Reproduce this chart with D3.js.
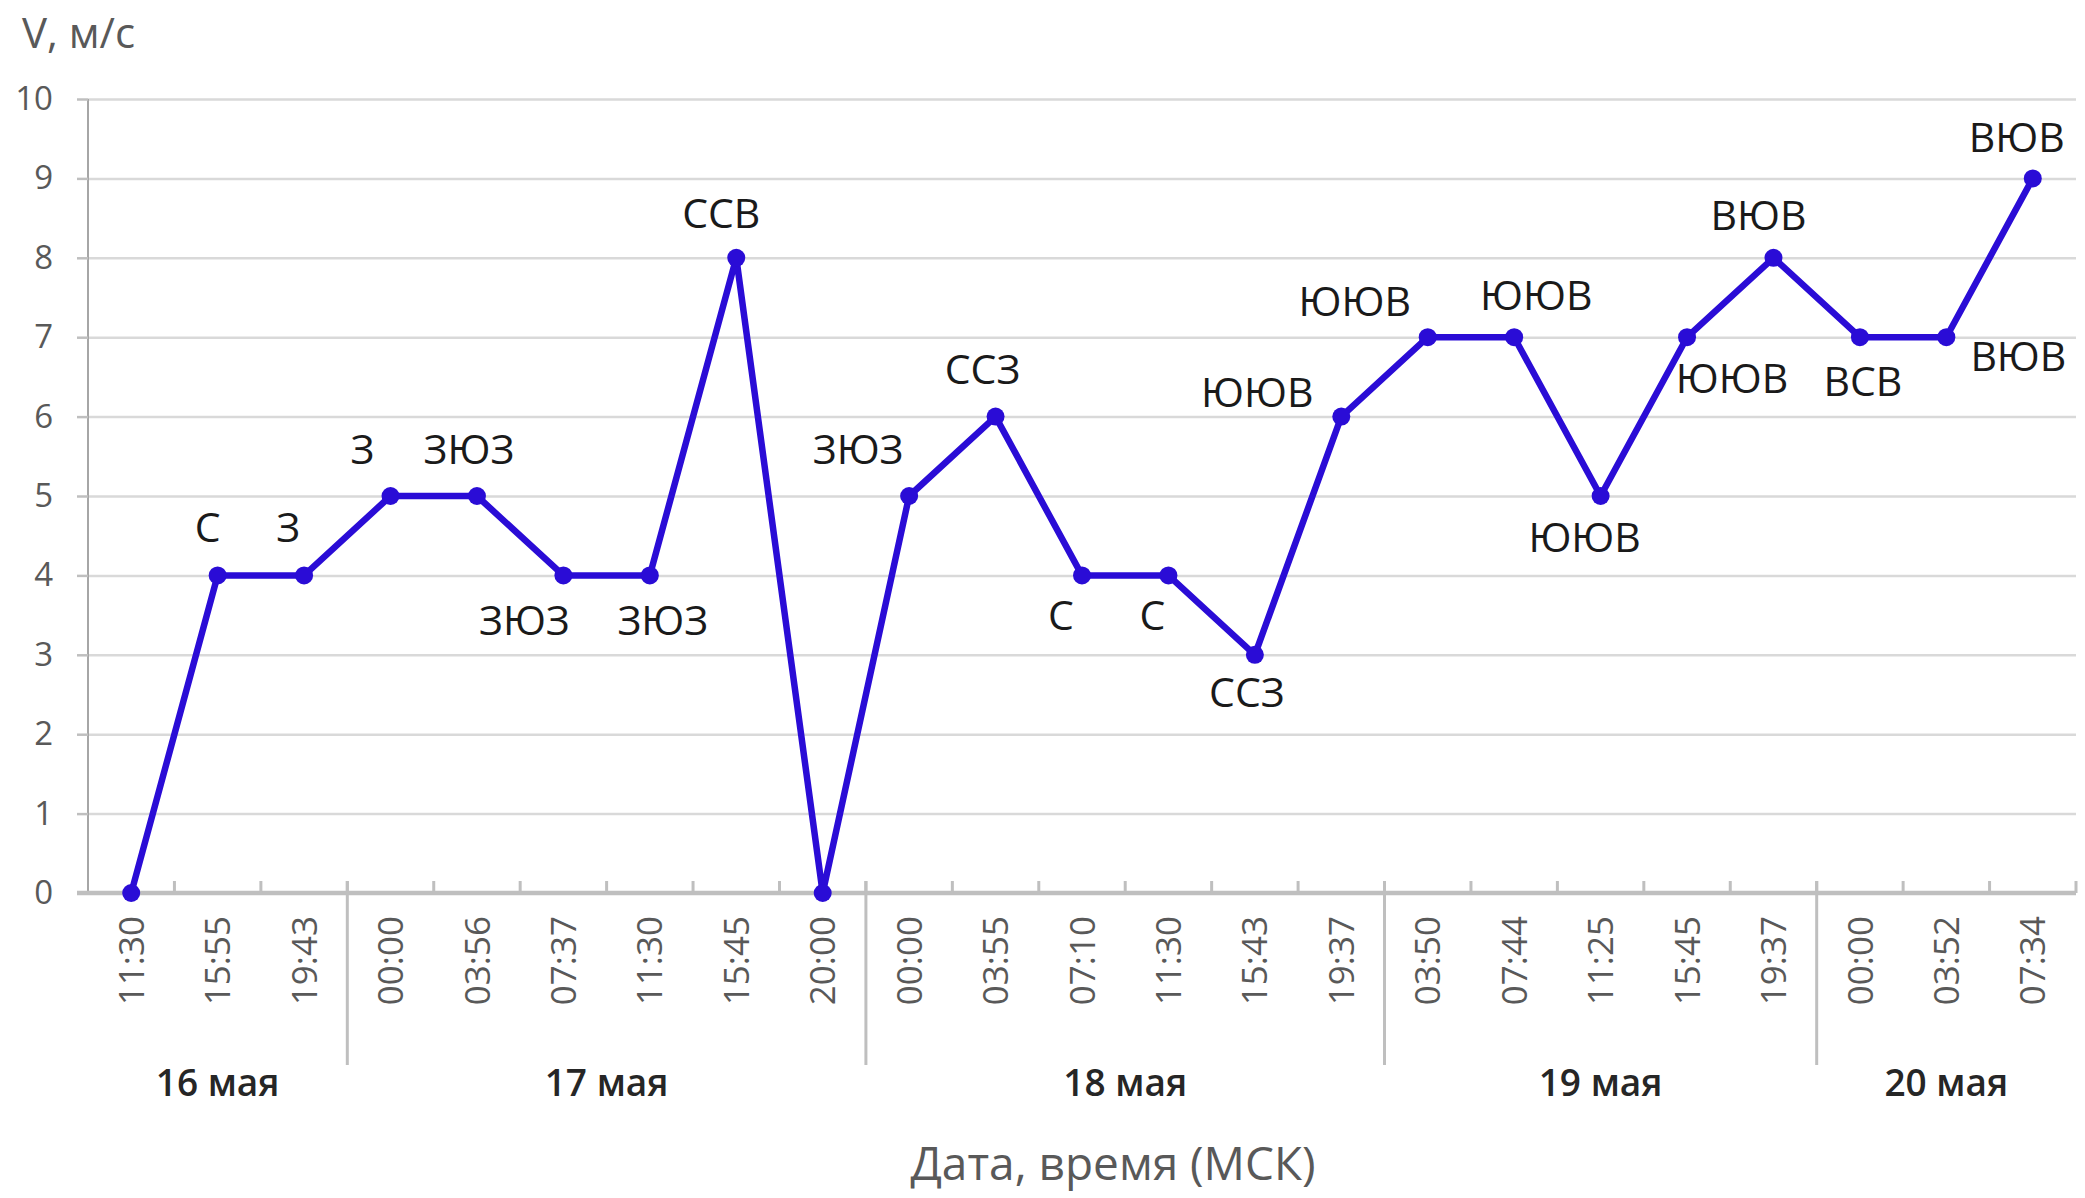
<!DOCTYPE html>
<html>
<head>
<meta charset="utf-8">
<script src="https://cdn.jsdelivr.net/npm/d3@7"></script>
<style>
  html, body { margin: 0; padding: 0; background: #ffffff; }
  svg { display: block; }
  text { font-family: "Open Sans", "Noto Sans", sans-serif; }
</style>
</head>
<body>
<svg id="chart" width="2085" height="1198"></svg>
<script>
// ---- data ----
const times = ["11:30","15:55","19:43","00:00","03:56","07:37","11:30","15:45","20:00",
               "00:00","03:55","07:10","11:30","15:43","19:37",
               "03:50","07:44","11:25","15:45","19:37",
               "00:00","03:52","07:34"];
const speeds = [0,4,4,5,5,4,4,8,0,5,6,4,4,3,6,7,7,5,7,8,7,7,9];
const directions = ["","С","З","З","ЗЮЗ","ЗЮЗ","ЗЮЗ","ССВ","","ЗЮЗ","ССЗ","С","С","ССЗ",
                    "ЮЮВ","ЮЮВ","ЮЮВ","ЮЮВ","ЮЮВ","ВЮВ","ВСВ","ВЮВ","ВЮВ"];
const dayLabels = ["16 мая","17 мая","18 мая","19 мая","20 мая"];
const dayCounts = [3,6,6,5,3];
const yTicks = [0,1,2,3,4,5,6,7,8,9,10];

// ---- layout (label placement offsets, px) ----
const labelOffsets = [[0,0],[-10,-48],[-16,-48],[-28,-47],[-8,-47],[-39,45],[13,45],[-15,-45],[0,0],
  [-51,-47],[-13,-47],[-21,40],[-16,40],[-8,37],[-84,-24],[-73,-36],[22,-42],[-16,41],[45,41],
  [-15,-43],[3,44],[72,19],[-16,-41]];

const svg = d3.select("#chart");
const mLeft = 88, mRight = 2076, mTop = 99, mBottom = 893;

const x = d3.scaleBand().domain(d3.range(times.length)).range([mLeft, mRight]).padding(0);
const y = d3.scaleLinear().domain([0, 10]).range([mBottom, mTop]);

// gridlines
svg.append("g")
  .attr("transform", `translate(${mLeft},0)`)
  .call(d3.axisLeft(y).tickValues(yTicks.filter(v => v > 0)).tickSize(-(mRight - mLeft)).tickFormat(""))
  .call(g => g.select(".domain").remove())
  .call(g => g.selectAll("line").attr("stroke", "#d9d9d9").attr("stroke-width", 2.5));

// y axis
svg.append("g")
  .attr("transform", `translate(${mLeft},0)`)
  .call(d3.axisLeft(y).tickValues(yTicks).tickSize(11).tickPadding(24).tickFormat(d3.format("d")))
  .call(g => g.select(".domain").attr("stroke", "#a6a6a6").attr("stroke-width", 2).attr("d", `M0,${mTop}V${mBottom}`))
  .call(g => g.selectAll(".tick line").attr("stroke", "#bfbfbf").attr("stroke-width", 2.5))
  .call(g => g.selectAll("text").attr("font-size", 33).attr("fill", "#595959")
                .attr("font-family", "'Open Sans', sans-serif"));

// x axis line
svg.append("line")
  .attr("x1", mLeft - 11).attr("x2", mRight).attr("y1", mBottom).attr("y2", mBottom)
  .attr("stroke", "#bfbfbf").attr("stroke-width", 4.5);

// band boundary ticks (upward)
const boundaries = d3.range(times.length + 1).map(i => i < times.length ? x(i) : x.range()[1]);
svg.append("g").selectAll("line").data(boundaries.slice(1)).join("line")
  .attr("x1", d => d).attr("x2", d => d)
  .attr("y1", mBottom).attr("y2", mBottom - 12)
  .attr("stroke", "#bfbfbf").attr("stroke-width", 3);

// day separators
let cum = 0;
const dayStarts = dayCounts.map(c => { const s = cum; cum += c; return s; });
svg.append("g").selectAll("line").data(dayStarts.slice(1)).join("line")
  .attr("x1", d => x(d)).attr("x2", d => x(d))
  .attr("y1", mBottom - 12).attr("y2", mBottom + 172)
  .attr("stroke", "#bfbfbf").attr("stroke-width", 3);

// time tick labels (rotated)
svg.append("g")
  .attr("transform", `translate(0,${mBottom})`)
  .call(d3.axisBottom(x).tickSize(0).tickFormat(i => times[i]))
  .call(g => g.select(".domain").remove())
  .call(g => g.selectAll("text")
     .attr("font-size", 35).attr("fill", "#595959")
     .attr("font-family", "'Open Sans', sans-serif")
     .attr("text-anchor", "end")
     .attr("transform", "rotate(-90)")
     .attr("x", -23).attr("y", 0).attr("dy", "0.36em"));

// day labels
svg.append("g").selectAll("text").data(dayLabels).join("text")
  .attr("x", (d, i) => (x(dayStarts[i]) + (dayStarts[i] + dayCounts[i] < times.length ? x(dayStarts[i] + dayCounts[i]) : mRight)) / 2)
  .attr("y", 1096)
  .attr("text-anchor", "middle")
  .attr("font-size", 37).attr("font-weight", 600).attr("fill", "#262626")
  .text(d => d);

// line
const line = d3.line().x((d, i) => x(i) + x.bandwidth() / 2).y(d => y(d));
svg.append("path").datum(speeds)
  .attr("d", line).attr("fill", "none")
  .attr("stroke", "#2a0cd6").attr("stroke-width", 6.5).attr("stroke-linejoin", "round");

svg.append("g").selectAll("circle").data(speeds).join("circle")
  .attr("cx", (d, i) => x(i) + x.bandwidth() / 2).attr("cy", d => y(d))
  .attr("r", 9).attr("fill", "#2a0cd6");

// direction labels
svg.append("g").selectAll("text").data(directions).join("text")
  .attr("x", (d, i) => x(i) + x.bandwidth() / 2 + labelOffsets[i][0])
  .attr("y", (d, i) => y(speeds[i]) + labelOffsets[i][1])
  .attr("dy", "0.36em")
  .attr("text-anchor", "middle")
  .attr("font-size", 41).attr("fill", "#1a1a1a")
  .text(d => d);

// axis titles
svg.append("text").attr("x", 22).attr("y", 48)
  .attr("font-size", 42).attr("fill", "#595959").text("V, м/с");
svg.append("text").attr("x", 1113).attr("y", 1180).attr("text-anchor", "middle")
  .attr("font-size", 46).attr("fill", "#595959").text("Дата, время (МСК)");
</script>
</body>
</html>
